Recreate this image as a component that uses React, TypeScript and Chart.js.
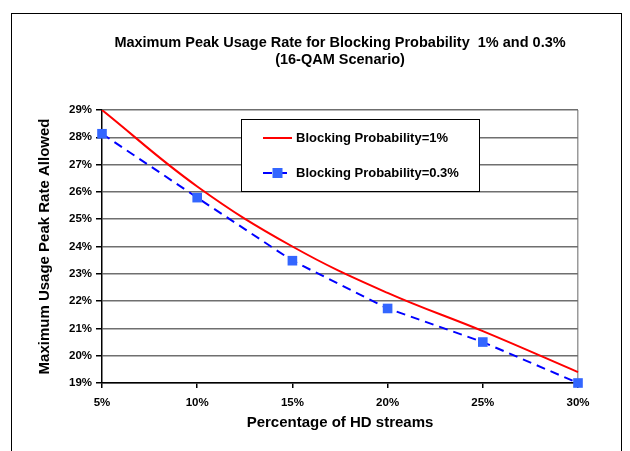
import { useEffect, useRef } from 'react';
import { Chart, registerables } from 'chart.js';

Chart.register(...registerables);

// Share of HD streams (category axis)
const hdShare = ['5%', '10%', '15%', '20%', '25%', '30%'];
// Maximum peak usage rate allowed (%), per blocking probability
const rateAt1pct = [29.0, 26.2, 24.0, 22.3, 20.9, 19.4];
const rateAt03pct = [28.13, 25.79, 23.48, 21.73, 20.5, 19.0];
const seriesNames = ['Blocking Probability=1%', 'Blocking Probability=0.3%'];
// Y axis range (%)
const yMin = 19;
const yMax = 29;
const yStep = 1;

const chartTitle = ['Maximum Peak Usage Rate for Blocking Probability  1% and 0.3%', '(16-QAM Scenario)'];
const xTitle = 'Percentage of HD streams';
const yTitle = 'Maximum Usage Peak Rate Allowed';

const FONT = 'Arial, "Liberation Sans", Helvetica, sans-serif';
const RED = '#ff0000';
const BLUE_LINE = '#0000ff';
const BLUE_MARK = '#3366ff';
const GRID = '#6f6f6f';

// Outer frame and white background
const framePlugin = {
  id: 'frame',
  beforeDraw(chart: any) {
    const { ctx, width, height } = chart;
    ctx.save();
    ctx.fillStyle = '#ffffff';
    ctx.fillRect(0, 0, width, height);
    ctx.strokeStyle = '#000000';
    ctx.lineWidth = 1;
    ctx.strokeRect(11.5, 13.5, 610, height + 20);
    ctx.restore();
  },
};

// Two-line heading above the plot
const headingPlugin = {
  id: 'heading',
  afterDraw(chart: any) {
    const { ctx, chartArea } = chart;
    const cx = (chartArea.left + chartArea.right) / 2;
    ctx.save();
    ctx.fillStyle = '#000000';
    ctx.font = `bold 14.5px ${FONT}`;
    ctx.textAlign = 'center';
    ctx.textBaseline = 'middle';
    ctx.fillText(chartTitle[0], cx, chartArea.top - 67);
    ctx.fillText(chartTitle[1], cx, chartArea.top - 50);
    ctx.restore();
  },
};

// Boxed legend inside the plot area
const boxLegendPlugin = {
  id: 'boxLegend',
  afterDatasetsDraw(chart: any) {
    const { ctx, chartArea } = chart;
    const bx = chartArea.left + 139;
    const by = chartArea.top + 9;
    const bw = 238;
    const bh = 72;
    ctx.save();
    ctx.fillStyle = '#ffffff';
    ctx.fillRect(bx, by, bw, bh);
    ctx.strokeStyle = '#000000';
    ctx.lineWidth = 1;
    ctx.strokeRect(bx + 0.5, by + 0.5, bw, bh);

    const sx0 = bx + 22;
    const sx1 = bx + 51;
    const rows = [by + 19, by + 54];
    chart.data.datasets.forEach((ds: any, i: number) => {
      const y = rows[i];
      ctx.save();
      ctx.strokeStyle = ds.borderColor;
      ctx.lineWidth = ds.borderWidth;
      ctx.setLineDash(ds.borderDash || []);
      ctx.beginPath();
      ctx.moveTo(sx0, y);
      ctx.lineTo(sx1, y);
      ctx.stroke();
      ctx.restore();
      if (ds.pointRadius > 0) {
        const s = 10;
        ctx.fillStyle = ds.pointBackgroundColor;
        ctx.fillRect((sx0 + sx1) / 2 - s / 2, y - s / 2, s, s);
      }
      ctx.fillStyle = '#000000';
      ctx.font = `bold 13px ${FONT}`;
      ctx.textAlign = 'left';
      ctx.textBaseline = 'middle';
      ctx.fillText(ds.label, sx1 + 4, y);
    });
    ctx.restore();
  },
};

export default function App() {
  const canvasRef = useRef<HTMLCanvasElement | null>(null);

  useEffect(() => {
    if (!canvasRef.current) return;
    const lastIndex = hdShare.length - 1;
    const chart = new Chart(canvasRef.current, {
      type: 'line',
      data: {
        labels: hdShare,
        datasets: [
          {
            label: seriesNames[0],
            data: rateAt1pct,
            borderColor: RED,
            backgroundColor: RED,
            borderWidth: 2,
            pointRadius: 0,
            tension: 0.4,
            fill: false,
          },
          {
            label: seriesNames[1],
            data: rateAt03pct,
            borderColor: BLUE_LINE,
            backgroundColor: BLUE_MARK,
            borderWidth: 2,
            borderDash: [9, 6],
            pointStyle: 'rect',
            pointRadius: 6.8,
            pointBorderWidth: 0,
            pointBackgroundColor: BLUE_MARK,
            pointBorderColor: BLUE_MARK,
            tension: 0,
            fill: false,
            clip: false,
          },
        ],
      },
      options: {
        responsive: false,
        animation: false,
        events: [],
        layout: { padding: { left: 32, right: 52, top: 110, bottom: 18 } },
        plugins: {
          legend: { display: false },
          tooltip: { enabled: false },
          title: { display: false },
        },
        scales: {
          x: {
            type: 'category',
            offset: false,
            afterFit: (scale: any) => {
              scale.height = 50;
            },
            grid: {
              display: true,
              drawOnChartArea: true,
              color: (c: any) => (c.index === lastIndex ? '#9a9a9a' : 'rgba(0,0,0,0)'),
              tickColor: '#000000',
              tickLength: 5,
              lineWidth: 1.5,
            },
            border: { display: true, color: '#000000', width: 1.5 },
            ticks: {
              color: '#000000',
              font: { family: FONT, size: 11.5, weight: 'bold' },
              padding: 8,
              maxRotation: 0,
              autoSkip: false,
            },
            title: {
              display: true,
              text: xTitle,
              color: '#000000',
              font: { family: FONT, size: 15, weight: 'bold' },
              padding: { top: 0, bottom: 1 },
            },
          },
          y: {
            min: yMin,
            max: yMax,
            afterFit: (scale: any) => {
              scale.width = 70;
            },
            grid: {
              color: GRID,
              tickColor: '#000000',
              tickLength: 6,
              lineWidth: 1.5,
            },
            border: { display: true, color: '#000000', width: 1.5 },
            ticks: {
              stepSize: yStep,
              color: '#000000',
              font: { family: FONT, size: 11.5, weight: 'bold' },
              padding: 4,
              callback: (v: any) => `${v}%`,
            },
            title: {
              display: true,
              text: yTitle,
              color: '#000000',
              font: { family: FONT, size: 15, weight: 'bold' },
              padding: { top: 4, bottom: 0 },
            },
          },
        },
      },
      plugins: [framePlugin, headingPlugin, boxLegendPlugin],
    } as any);
    return () => chart.destroy();
  }, []);

  return (
    <div style={{ position: 'fixed', left: 0, top: 0, width: 630, height: 451, background: '#ffffff', overflow: 'hidden' }}>
      <canvas ref={canvasRef} width={630} height={451} style={{ display: 'block' }} />
    </div>
  );
}
